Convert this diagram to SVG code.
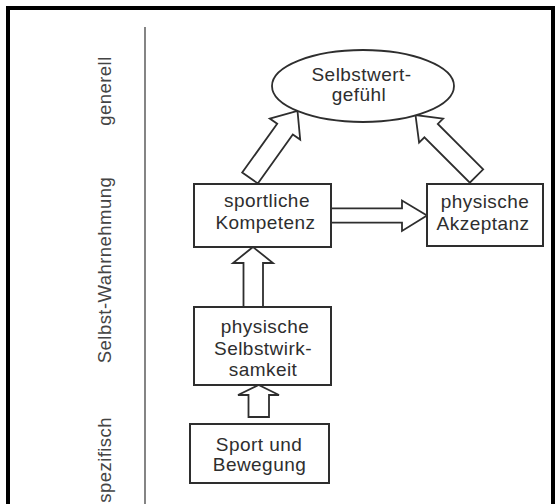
<svg xmlns="http://www.w3.org/2000/svg" width="555" height="504" viewBox="0 0 555 504">
<style>
.box{fill:#fff;stroke:#2e2e2e;stroke-width:2}
.arr{fill:#fff;stroke:#2e2e2e;stroke-width:1.8;stroke-linejoin:miter}
.t{font-family:"Liberation Sans",Arial,sans-serif;font-size:19px;letter-spacing:0.45px;fill:#2e2e2e;text-anchor:middle}
.side{font-family:"Liberation Sans",Arial,sans-serif;font-size:18.5px;letter-spacing:0.45px;fill:#444}
</style>
<rect x="0" y="0" width="555" height="504" fill="#fff"/>
<rect x="8" y="8" width="545" height="530" fill="none" stroke="#000" stroke-width="4"/>
<line x1="145" y1="27" x2="145" y2="504" stroke="#666" stroke-width="1.6"/>
<g id="side-labels">
<text class="side" text-anchor="middle" transform="translate(111,91) rotate(-90)">generell</text>
<text class="side" text-anchor="middle" transform="translate(111,270) rotate(-90)">Selbst-Wahrnehmung</text>
<text class="side" text-anchor="end" transform="translate(111,417) rotate(-90)">spezifisch</text>
</g>
<g id="connectors">
<polygon class="arr" points="242.2,172.6 277.2,123.7 269.8,118.6 297.5,111 300.2,139.6 292.8,134.5 257.8,183.4"/>
<polygon class="arr" points="483.2,169.3 437.8,123.9 443.1,118.6 415.5,115 419.1,142.6 424.4,137.3 469.8,182.7"/>
<polygon class="arr" points="331,208.3 402,208.3 402,200.5 427,215.5 402,231 402,222.7 331,222.7"/>
<polygon class="arr" points="243.5,307 243.5,263 233,263 253,247 273,263 263,263 263,307"/>
<polygon class="arr" points="248.5,417 248.5,395 238,395 258.7,385 279,395 269,395 269,417"/>
</g>
<g id="selbstwertgefuehl">
<ellipse cx="363" cy="86" rx="91" ry="36" fill="#fff" stroke="#2e2e2e" stroke-width="1.8"/>
<text class="t" x="361.5" y="80.5">Selbstwert-</text>
<text class="t" x="359" y="100.5">gefühl</text>
</g>
<g id="sportliche-kompetenz">
<rect class="box" x="194" y="184" width="137" height="63"/>
<text class="t" x="267" y="207">sportliche</text>
<text class="t" x="265.5" y="228.5">Kompetenz</text>
</g>
<g id="physische-akzeptanz">
<rect class="box" x="427" y="184" width="116" height="62"/>
<text class="t" x="485" y="207.5">physische</text>
<text class="t" x="483" y="230">Akzeptanz</text>
</g>
<g id="physische-selbstwirksamkeit">
<rect class="box" x="194" y="307" width="137" height="78"/>
<text class="t" x="265" y="333">physische</text>
<text class="t" x="263" y="354.5">Selbstwirk-</text>
<text class="t" x="263" y="375.5">samkeit</text>
</g>
<g id="sport-und-bewegung">
<rect class="box" x="190" y="424" width="139" height="59"/>
<text class="t" x="259" y="450.5">Sport und</text>
<text class="t" x="259.5" y="470.5">Bewegung</text>
</g>
</svg>
